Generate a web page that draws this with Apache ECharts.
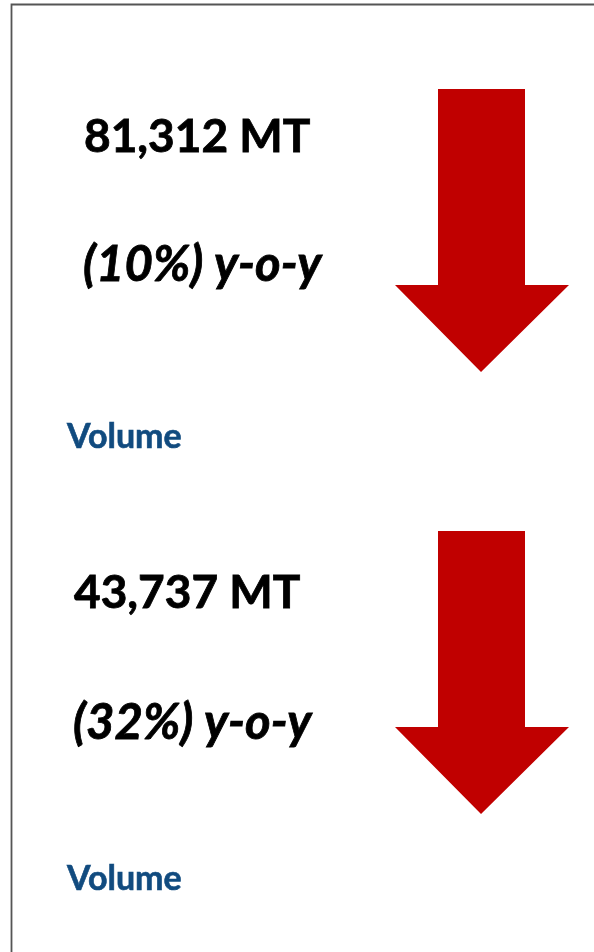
<!DOCTYPE html>
<html>
<head>
<meta charset="utf-8">
<script src="https://cdn.jsdelivr.net/npm/echarts@6/dist/echarts.min.js"></script>
<style>
  html, body {
    margin: 0;
    padding: 0;
    background: #fff;
  }
  #kpiChart {
    width: 594px;
    height: 952px;
  }
</style>
</head>
<body>
<div id="kpiChart"></div>
<script>
// 数据
const totals = ['81,312 MT', '43,737 MT']
const yoyChange = [10, 32] // 同比下降 %
const metricNames = ['Volume', 'Volume']

const panelTop = [0, 442] // 每块的纵向偏移
const textLeft = [84, 74]

const red = '#C00000'
const blue = '#114B7F'
const fontFamily = 'Lato, "Open Sans", sans-serif'

const graphics = [
  // 外框
  {
    type: 'rect',
    shape: { x: 11.5, y: 4.5, width: 700, height: 1000 },
    style: { fill: 'none', stroke: '#555555', lineWidth: 1.8 },
  },
]

totals.forEach((total, i) => {
  const dy = panelTop[i]
  // 下降箭头
  graphics.push({
    type: 'polygon',
    shape: {
      points: [
        [438, 89 + dy], [525, 89 + dy], [525, 285 + dy], [569, 285 + dy],
        [481, 372 + dy], [395, 285 + dy], [438, 285 + dy],
      ],
    },
    style: { fill: red },
  })
  graphics.push({
    type: 'text',
    x: textLeft[i],
    y: 137 + dy + (i ? 14 : 0),
    style: {
      text: total,
      fill: '#000',
      stroke: '#000',
      lineWidth: 0.8,
      font: 'bold 46px ' + fontFamily,
      verticalAlign: 'middle',
    },
  })
  graphics.push({
    type: 'text',
    x: textLeft[i] - 1,
    y: 265 + dy + (i ? 16 : 0),
    style: {
      text: '(' + yoyChange[i] + '%) y-o-y',
      fill: '#000',
      stroke: '#000',
      lineWidth: 0.8,
      font: 'italic bold 49px ' + fontFamily,
      verticalAlign: 'middle',
    },
  })
  graphics.push({
    type: 'text',
    x: 67,
    y: 437 + dy,
    style: {
      text: metricNames[i],
      fill: blue,
      stroke: blue,
      lineWidth: 0.6,
      font: 'bold 34px ' + fontFamily,
      verticalAlign: 'middle',
    },
  })
})

const myChart = echarts.init(document.getElementById('kpiChart'))
myChart.setOption({
  animation: false,
  backgroundColor: '#fff',
  graphic: graphics,
})
</script>
</body>
</html>
